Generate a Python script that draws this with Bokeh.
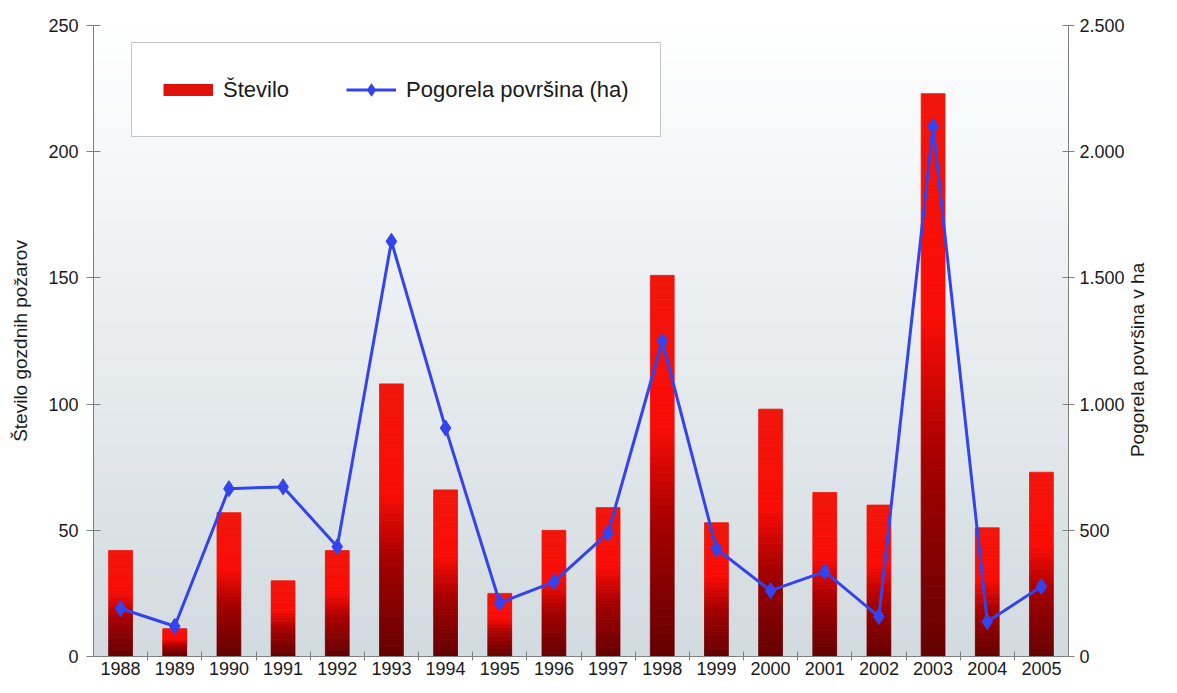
import math
import numpy as np
from bokeh.plotting import figure
from bokeh.models import Range1d, LinearAxis, FixedTicker, Legend, LegendItem
from bokeh.embed import file_html
from bokeh.resources import INLINE

# ---------------- data ----------------
years = ["1988", "1989", "1990", "1991", "1992", "1993", "1994", "1995", "1996",
         "1997", "1998", "1999", "2000", "2001", "2002", "2003", "2004", "2005"]
fires = [42, 11, 57, 30, 42, 108, 66, 25, 50, 59, 151, 53, 98, 65, 60, 223, 51, 73]
area_ha = [190, 120, 665, 672, 435, 1645, 905, 213, 296, 490, 1250, 427, 261, 336, 158, 2100, 138, 277]
left_ticks = [0, 50, 100, 150, 200, 250]
right_ticks = [0, 500, 1000, 1500, 2000, 2500]
right_tick_labels = ["0", "500", "1.000", "1.500", "2.000", "2.500"]
left_title = "Število gozdnih požarov"
right_title = "Pogorela površina v ha"

FONT = "Liberation Sans"
TXT = "#1a1a1a"
AXC = "#808080"
BLUE = "#3344ee"

n = len(years)
xs = list(range(n))

p = figure(width=1161, height=677, x_range=Range1d(-0.5, n - 0.5),
           y_range=Range1d(left_ticks[0], left_ticks[-1]),
           output_backend="svg", toolbar_location=None,
           min_border_left=93, min_border_right=79, min_border_top=25, min_border_bottom=21)
p.outline_line_color = None
p.grid.visible = False
p.background_fill_color = "white"
p.border_fill_color = "white"

# plot-area background gradient (white at top to light grey-blue at bottom)
rows = 256
img = np.empty((rows, 1), dtype=np.uint32)
view = img.view(dtype=np.uint8).reshape((rows, 1, 4))
t = np.linspace(0, 1, rows)  # 0 bottom, 1 top
bottom_c = np.array([210, 219, 224])
top_c = np.array([255, 255, 255])
for k in range(3):
    view[:, 0, k] = (bottom_c[k] + (top_c[k] - bottom_c[k]) * t).astype(np.uint8)
view[:, 0, 3] = 255
p.image_rgba(image=[img], x=-0.5, y=left_ticks[0], dw=n, dh=left_ticks[-1] - left_ticks[0])

# ---------------- bars with vertical gradient ----------------
stops = [(0.0, (240, 22, 12)), (0.40, (250, 12, 6)), (0.65, (165, 0, 0)), (1.0, (100, 0, 0))]

def grad_color(f):
    for (a, ca), (b, cb) in zip(stops[:-1], stops[1:]):
        if a <= f <= b:
            u = (f - a) / (b - a)
            c = [int(round(ca[j] + (cb[j] - ca[j]) * u)) for j in range(3)]
            return "#%02x%02x%02x" % tuple(c)
    return "#%02x%02x%02x" % stops[-1][1]

N = 48
bar_w = 0.44
for i in range(N):
    tops = [v * (1 - i / N) for v in fires]
    bots = [v * (1 - (i + 1) / N) for v in fires]
    col = grad_color((i + 0.5) / N)
    p.vbar(x=xs, width=bar_w, top=tops, bottom=bots, fill_color=col,
           line_color=col, line_width=0.8)

# legend swatch for the bars (a thick short stroke; its single point is NaN so nothing is drawn in the plot)
bar_key = p.line(x=np.array([np.nan]), y=np.array([np.nan]), line_color="#e0100a",
                 line_width=12, line_cap="butt")

# ---------------- line on secondary axis ----------------
p.extra_y_ranges = {"area": Range1d(right_ticks[0], right_ticks[-1])}
line_r = p.line(xs, area_ha, y_range_name="area", line_color=BLUE, line_width=3)
pts_r = p.scatter(xs, area_ha, y_range_name="area", marker="diamond", size=16,
                  fill_color=BLUE, line_color=BLUE)

# ---------------- axes ----------------
yl = p.yaxis[0]
yl.ticker = FixedTicker(ticks=left_ticks)
yl.axis_label = left_title
yl.axis_label_text_font = FONT
yl.axis_label_text_font_size = "19px"
yl.axis_label_text_font_style = "normal"
yl.axis_label_text_color = TXT
yl.axis_label_standoff = 14

yr = LinearAxis(y_range_name="area", ticker=FixedTicker(ticks=right_ticks),
                major_label_overrides={v: s for v, s in zip(right_ticks, right_tick_labels)})
p.add_layout(yr, "right")

# right title: a bare outer axis whose single rotated label reads bottom-to-top
title_start = 790  # where (in ha) the rotated title text begins, so it sits mid-height
yt = LinearAxis(y_range_name="area", ticker=FixedTicker(ticks=[title_start]),
                major_label_overrides={title_start: right_title},
                major_label_orientation=math.pi / 2,
                axis_line_color=None, major_tick_line_color=None, minor_tick_line_color=None,
                major_tick_in=0, major_tick_out=0, major_label_standoff=10,
                major_label_text_font=FONT, major_label_text_font_size="19px",
                major_label_text_color=TXT)
p.add_layout(yt, "right")

xa = p.xaxis[0]
xa.ticker = FixedTicker(ticks=xs, minor_ticks=[i + 0.5 for i in range(n - 1)])
xa.major_label_overrides = {i: y for i, y in enumerate(years)}
xa.major_tick_in = 0
xa.major_tick_out = 0
xa.minor_tick_in = 5
xa.minor_tick_out = 4
xa.major_label_standoff = 1

yl.major_tick_in = 7
yl.major_tick_out = 7
yl.major_label_standoff = 8
yr.major_tick_in = 6
yr.major_tick_out = 6
yr.major_label_standoff = 5

for ax in (yl, yr, xa):
    ax.axis_line_color = AXC
    ax.major_tick_line_color = AXC
    ax.minor_tick_line_color = AXC if ax is xa else None
    ax.major_label_text_font = FONT
    ax.major_label_text_font_size = "18px"
    ax.major_label_text_color = TXT

# ---------------- legend ----------------
legend = Legend(items=[LegendItem(label="Število", renderers=[bar_key]),
                       LegendItem(label="Pogorela površina (ha)", renderers=[line_r, pts_r])],
                orientation="horizontal", location=(38, 519), padding=31, spacing=57,
                label_standoff=10, glyph_width=50, glyph_height=31, label_height=31,
                label_text_font=FONT, label_text_font_size="22px", label_text_color=TXT,
                border_line_color="#8c8c8c", border_line_width=1.2,
                background_fill_color="white", background_fill_alpha=1, margin=0)
p.add_layout(legend)

open("out.html", "w").write(file_html(p, INLINE))
